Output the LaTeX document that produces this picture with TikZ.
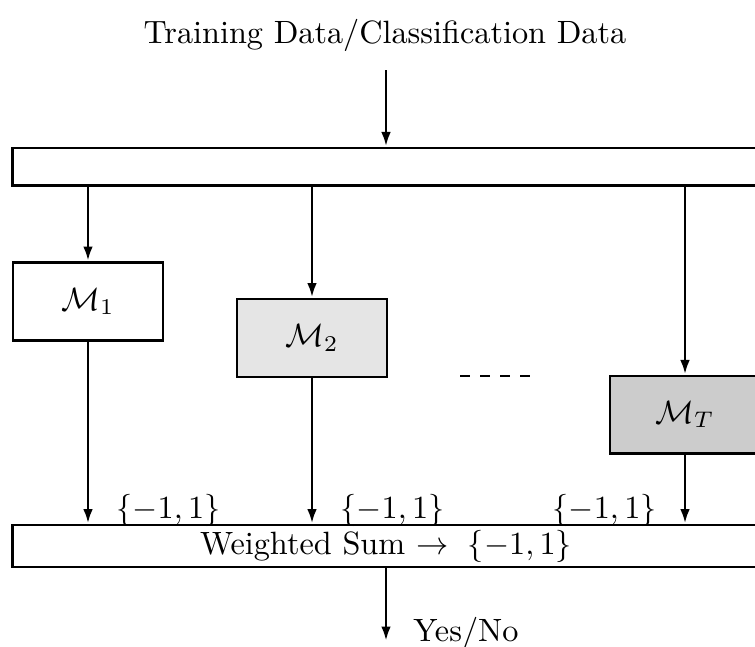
\documentclass[tikz,border=0pt]{standalone}
\usetikzlibrary{arrows.meta}
\begin{document}
\begin{tikzpicture}[x=0.31pt,y=-0.31pt,
  line width=0.9pt,
  flow/.style={-{Latex[length=4.5pt,width=3pt]}},
  bar/.style={draw,rectangle,minimum width=231.3pt,inner sep=0pt},
  learner/.style={draw,rectangle,minimum width=46.5pt,minimum height=24.2pt,inner sep=0pt},
  vote/.style={inner sep=0pt,anchor=base west}]
\useasboundingbox (0,0) rectangle (755,646);
\clip (0,0) rectangle (755,646);

% title and input
\node[anchor=base,inner sep=0pt] (title) at (385,43) {Training Data/Classification Data};
\coordinate (in) at (386,70);

% distribution bar
\node[bar,minimum height=11.5pt] (top) at (386,166.5) {};
\draw[flow] (in) -- (top.north |- in) -- (top.north);

% component learners
\node[learner] (m1) at (88,301.5) {$\mathcal{M}_1$};
\node[learner,fill=black!10] (m2) at (312,338) {$\mathcal{M}_2$};
\node[learner,fill=black!20,minimum height=23.9pt] (mt) at (685,414.5) {$\mathcal{M}_T$};
\draw[dashed,dash pattern=on 3.1pt off 3.1pt] (460,376) -- (533,376);

\draw[flow] (m1.north |- top.south) -- (m1.north);
\draw[flow] (m2.north |- top.south) -- (m2.north);
\draw[flow] (mt.north |- top.south) -- (mt.north);

% combination bar
\node[bar,minimum height=13pt] (sum) at (386,546) {Weighted Sum $\rightarrow\ \{-1,1\}$};
\draw[flow] (m1.south) -- (m1.south |- sum.north);
\draw[flow] (m2.south) -- (m2.south |- sum.north);
\draw[flow] (mt.south) -- (mt.south |- sum.north);

\node[vote] (v1) at (115,518) {$\{-1,1\}$};
\node[vote] (v2) at (339,518) {$\{-1,1\}$};
\node[inner sep=0pt,anchor=base east] (v3) at (658,518) {$\{-1,1\}$};

% output
\coordinate (out) at (386,641);
\draw[flow] (sum.south) -- (out);
\node[inner sep=0pt,anchor=base west] (yn) at (412,641) {Yes/No};
\end{tikzpicture}
\end{document}
